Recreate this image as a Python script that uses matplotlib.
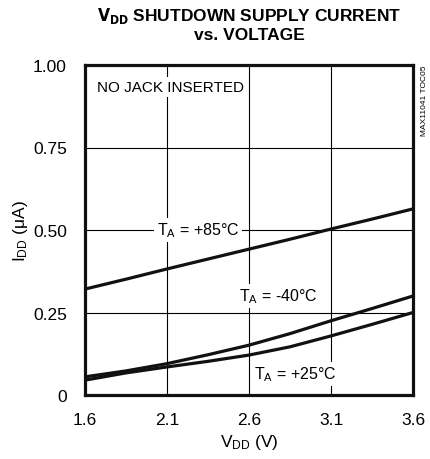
import matplotlib
matplotlib.use("Agg")
import matplotlib.pyplot as plt

plt.rcParams['font.family'] = ['Liberation Sans Narrow', 'DejaVu Sans Condensed', 'Liberation Sans', 'DejaVu Sans']
plt.rcParams['font.stretch'] = 'condensed'
plt.rcParams['mathtext.default'] = 'regular'

# data
vdd = [1.6, 1.85, 2.1, 2.35, 2.6, 2.85, 3.1, 3.35, 3.6]
i_85 = [0.321, 0.351, 0.382, 0.412, 0.442, 0.472, 0.503, 0.533, 0.564]
i_m40 = [0.055, 0.073, 0.095, 0.122, 0.151, 0.186, 0.225, 0.262, 0.300]
i_25 = [0.045, 0.067, 0.085, 0.102, 0.121, 0.146, 0.179, 0.214, 0.250]

x_ticks = [1.6, 2.1, 2.6, 3.1, 3.6]
y_ticks = [0, 0.25, 0.50, 0.75, 1.00]
y_labels = ["0", "0.25", "0.50", "0.75", "1.00"]

fig = plt.figure(figsize=(4.3, 4.6), dpi=100)
ax = fig.add_axes([85/430, 64/460, 328/430, 330/460])

for v in x_ticks[1:-1]:
    ax.axvline(v, color='black', lw=0.8, zorder=1)
for v in y_ticks[1:-1]:
    ax.axhline(v, color='black', lw=0.8, zorder=1)

for ys in (i_85, i_m40, i_25):
    ax.plot(vdd, ys, color='#111111', lw=2.3, zorder=3, solid_capstyle='butt')

box = dict(facecolor='white', edgecolor='none', pad=2)
fs = 11.5
ax.text(1.673, 0.933, "NO JACK INSERTED", fontsize=11, va='center', ha='left', bbox=box, zorder=2)
ax.text(2.29, 0.50, "$T_A$ = +85°C", fontsize=fs, va='center', ha='center', bbox=box, zorder=2)
ax.text(2.776, 0.30, "$T_A$ = -40°C", fontsize=fs, va='center', ha='center', bbox=box, zorder=2)
ax.text(2.88, 0.064, "$T_A$ = +25°C", fontsize=fs, va='center', ha='center', bbox=box, zorder=2)

ax.set_xlim(1.6, 3.6)
ax.set_ylim(0, 1.0)
ax.set_xticks(x_ticks)
ax.set_xticklabels([f"{v:.1f}" for v in x_ticks])
ax.set_yticks(y_ticks)
ax.set_yticklabels(y_labels)
ax.tick_params(length=0, labelsize=12.5)
ax.tick_params(axis='x', pad=12)
ax.tick_params(axis='y', pad=13)
for s in ax.spines.values():
    s.set_linewidth(2.3)
    s.set_color('#111111')

ax.set_xlabel("$V_{DD}$ (V)", fontsize=12.5, labelpad=4)
ax.set_ylabel("$I_{DD}$ (μA)", fontsize=12.5, labelpad=2)

fig.text(249/430, 1 - 6/460, "$\\mathbf{V_{DD}}$ SHUTDOWN SUPPLY CURRENT\nvs. VOLTAGE",
         fontsize=12.5, fontweight='bold', ha='center', va='top', linespacing=1.15)
fig.text(424/430, 1 - 66/460, "MAX11041 TOC05", fontsize=6, rotation=90, ha='center', va='top')

fig.savefig("out.png", dpi=100)
